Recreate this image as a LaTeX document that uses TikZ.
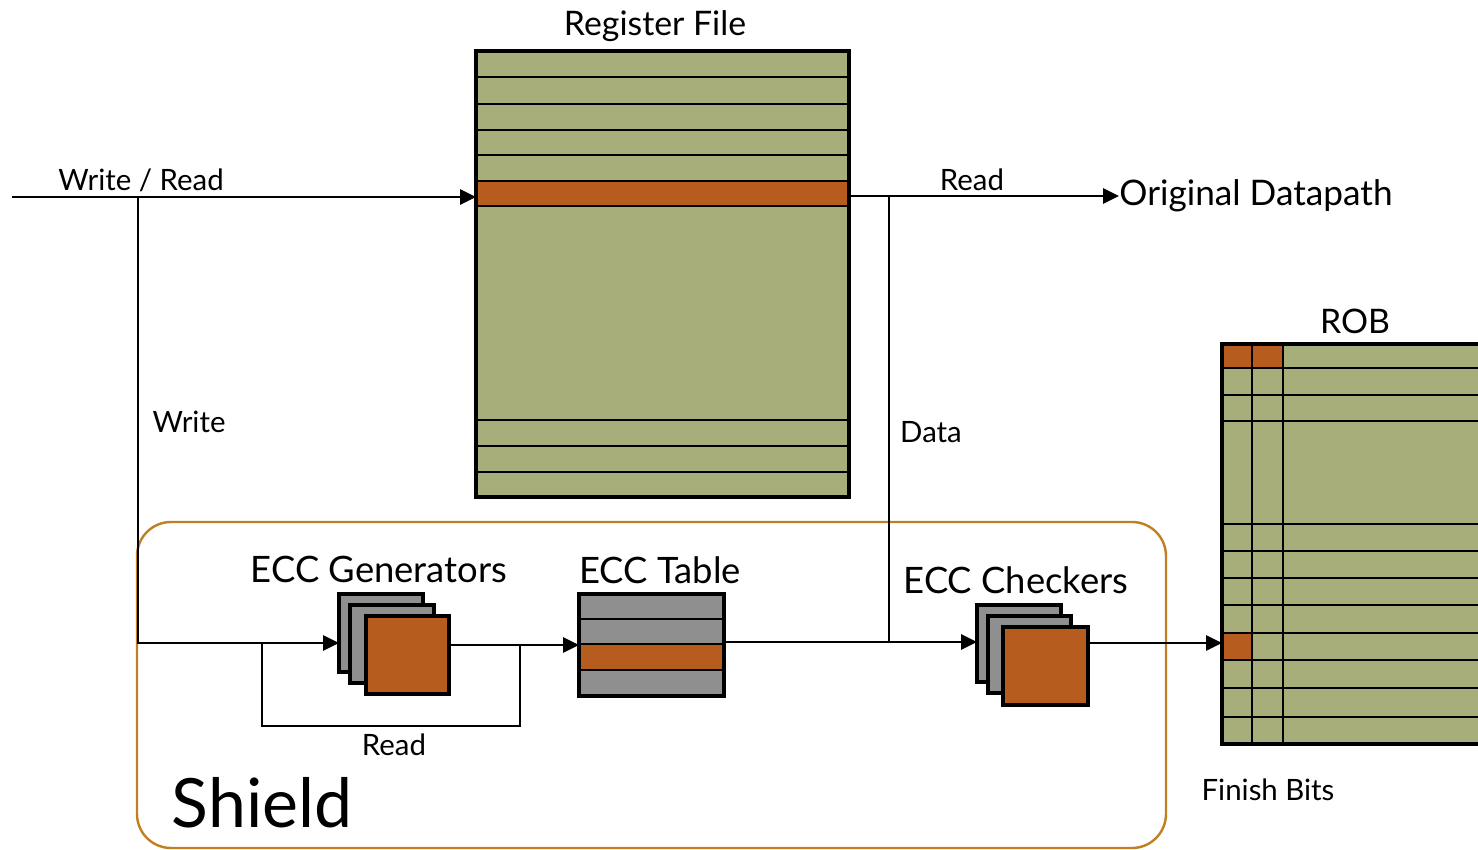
\documentclass[tikz,border=0pt]{standalone}
\usepackage{fontspec}
\setmainfont{Lato}
\usetikzlibrary{fit,arrows.meta}
\definecolor{olive}{HTML}{A7AE7A}
\definecolor{rust}{HTML}{B65C1E}
\definecolor{chipgray}{HTML}{8F8F8F}
\definecolor{shieldline}{HTML}{C07F20}
\begin{document}
\begin{tikzpicture}[x=0.5pt,y=-0.5pt,
  area/.style={inner sep=0pt, outer sep=0pt},
  boxline/.style={draw=black, line width=1.7pt},
  gridline/.style={draw=black, line width=1.35pt},
  wire/.style={draw=black, line width=1.4pt},
  arr/.style={wire, -{Triangle[length=8pt,width=7.5pt]}},
  lbl/.style={inner sep=0pt, font=\fontsize{14.7}{17}\selectfont},
  title/.style={inner sep=0pt, font=\fontsize{16.9}{19}\selectfont},
  ecctitle/.style={inner sep=0pt, font=\fontsize{18.2}{21}\selectfont},
  big/.style={inner sep=0pt, font=\fontsize{34}{40}\selectfont},
]
\useasboundingbox (0,0) rectangle (1478,850);

% ---------- Register file ----------
\node[area, fit={(476,51) (849,497)}, fill=olive] (rf) {};
\fill[rust] (476,181) rectangle (849,206);
\foreach \y in {77,104,130,155,181,206,420,446,472}
  \draw[gridline] (476,\y) -- (849,\y);
\draw[boxline] (rf.north west) rectangle (rf.south east);
\node[title] (rftitle) at (655,26) {Register File};

% ---------- ROB (runs off the right edge) ----------
\begin{scope}
  \clip (0,0) rectangle (1478,850);
  \node[area, fit={(1222,344) (1495,744)}, fill=olive] (rob) {};
  \fill[rust] (1222,344) rectangle (1252,368);
  \fill[rust] (1252,344) rectangle (1283,368);
  \fill[rust] (1222,633) rectangle (1252,660);
  \foreach \y in {368,395,421,524,551,578,605,633,660,688,717}
    \draw[gridline] (1222,\y) -- (1495,\y);
  \foreach \x in {1252,1283}
    \draw[gridline] (\x,344) -- (\x,744);
  \draw[boxline] (rob.north west) rectangle (rob.south east);
\end{scope}
\node[title] (robtitle) at (1355,321) {ROB};
\node[lbl] (finish) at (1268,790) {Finish Bits};

% ---------- Shield ----------
\node[area, fit={(137,522) (1166,848)}, draw=shieldline, line width=1.2pt,
      rounded corners=17pt] (shield) {};
\node[big] (shieldtxt) at (262,803) {Shield};

% ---------- ECC generators ----------
\node[area, fit={(339,594) (423,672)}, fill=chipgray, boxline] (gb) {};
\node[area, fit={(350,605) (434,683)}, fill=chipgray, boxline] (gm) {};
\node[area, fit={(366,616) (449,694)}, fill=rust, boxline] (gf) {};
\node[ecctitle] (gentitle) at (379,569) {ECC Generators};

% ---------- ECC table ----------
\node[area, fit={(579,594) (724,696)}, fill=chipgray] (et) {};
\fill[rust] (579,644) rectangle (724,670);
\foreach \y in {619,644,670}
  \draw[gridline] (579,\y) -- (724,\y);
\draw[boxline] (et.north west) rectangle (et.south east);
\node[ecctitle] (ettitle) at (660,570) {ECC Table};

% ---------- ECC checkers ----------
\node[area, fit={(977,605) (1061,682)}, fill=chipgray, boxline] (cb) {};
\node[area, fit={(988,616) (1071,693)}, fill=chipgray, boxline] (cm) {};
\node[area, fit={(1003,627) (1088,705)}, fill=rust, boxline] (cf) {};
\node[ecctitle] (chktitle) at (1016,580) {ECC Checkers};

% ---------- Connectors ----------
\coordinate (src) at (12,197);
\coordinate (wsplit) at (138,197);
\coordinate (wcorner) at (138,643);
\draw[arr] (src) -- (rf.west |- src);
\draw[arr] (wsplit) -- (wcorner) -- (gb.west |- wcorner);
\node[lbl] (wrlbl) at (141,180) {Write / Read};
\node[lbl] (wlbl) at (189,422) {Write};

% generator feedback loop
\coordinate (fbl) at (262,643);
\coordinate (fbr) at (520,645);
\draw[wire] (fbl) -- (fbl |- 0,726) -- (fbr |- 0,726) -- (fbr);
\node[lbl] (rdlbl2) at (394,745) {Read};
\coordinate (gout) at (gf.east |- 0,645);
\draw[arr] (gout) -- (et.west |- gout);

% read path out of the register file
\node[title, font=\fontsize{17.6}{20}\selectfont, anchor=west] (orig) at (1119,196) {Original Datapath};
\coordinate (rout) at (rf.east |- 0,196);
\draw[arr] (rout) -- (orig.west);
\node[lbl] (rdlbl) at (972,180) {Read};

% data tap down to the checkers
\coordinate (dtop) at (889,196);
\coordinate (djoin) at (889,642);
\draw[wire] (dtop) -- (djoin);
\node[lbl] (datalbl) at (931,432) {Data};
\coordinate (tout) at (et.east |- 0,642);
\draw[arr] (tout) -- (cb.west |- tout);

% checkers to the ROB finish bits
\coordinate (cout) at (cf.east |- 0,643);
\draw[arr] (cout) -- (rob.west |- cout);
\end{tikzpicture}
\end{document}
